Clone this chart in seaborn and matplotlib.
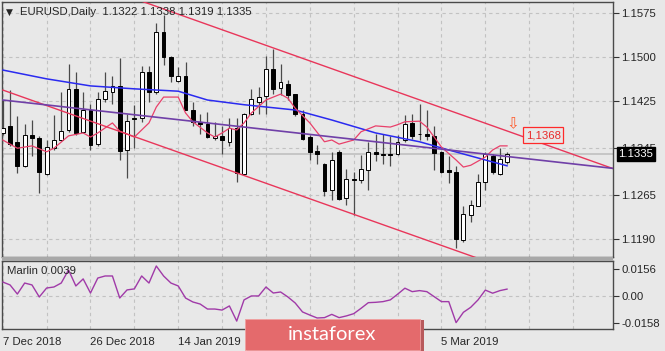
import numpy as np
import pandas as pd
import matplotlib
matplotlib.use("Agg")
import matplotlib.pyplot as plt
import seaborn as sns
from matplotlib.patches import Rectangle

# ---------------- data ----------------
opens = [1.1371,1.1383,1.1356,1.1314,1.1368,1.1363,1.1301,1.1345,1.1359,1.1376,
         1.1445,1.1373,1.1410,1.1352,1.1428,1.1441,1.1451,1.1342,1.1396,1.1396,
         1.1475,1.1441,1.1542,1.1500,1.1460,1.1468,1.1410,1.1389,1.1387,1.1362,
         1.1366,1.1356,1.1380,1.1301,1.1404,1.1424,1.1433,1.1479,1.1447,1.1455,
         1.1437,1.1403,1.1364,1.1341,1.1319,1.1274,1.1339,1.1260,1.1292,1.1291,
         1.1308,1.1339,1.1336,1.1335,1.1335,1.1359,1.1388,1.1370,1.1370,1.1366,
         1.1339,1.1308,1.1305,1.1189,1.1231,1.1246,1.1288,1.1332,1.1302,1.1322]
highs = [1.1427,1.1444,1.1400,1.1387,1.1393,1.1365,1.1359,1.1402,1.1440,1.1488,
         1.1475,1.1440,1.1421,1.1441,1.1475,1.1467,1.1498,1.1404,1.1418,1.1484,
         1.1485,1.1558,1.1572,1.1502,1.1483,1.1492,1.1424,1.1404,1.1407,1.1390,
         1.1382,1.1396,1.1396,1.1405,1.1445,1.1449,1.1502,1.1513,1.1489,1.1461,
         1.1438,1.1410,1.1368,1.1350,1.1320,1.1339,1.1342,1.1309,1.1305,1.1333,
         1.1356,1.1370,1.1370,1.1365,1.1368,1.1402,1.1404,1.1420,1.1410,1.1382,
         1.1340,1.1331,1.1314,1.1246,1.1257,1.1302,1.1339,1.1336,1.1345,1.1338]
lows = [1.1368,1.1348,1.1303,1.1313,1.1331,1.1268,1.1300,1.1342,1.1358,1.1373,
        1.1368,1.1371,1.1342,1.1348,1.1424,1.1421,1.1325,1.1295,1.1345,1.1390,
        1.1424,1.1438,1.1486,1.1458,1.1457,1.1410,1.1383,1.1370,1.1362,1.1359,
        1.1335,1.1348,1.1288,1.1299,1.1401,1.1404,1.1404,1.1438,1.1436,1.1427,
        1.1399,1.1359,1.1325,1.1319,1.1263,1.1257,1.1257,1.1248,1.1231,1.1286,
        1.1274,1.1324,1.1319,1.1314,1.1333,1.1356,1.1360,1.1359,1.1359,1.1308,
        1.1303,1.1286,1.1175,1.1186,1.1220,1.1246,1.1274,1.1301,1.1299,1.1319]
closes = [1.1380,1.1352,1.1315,1.1368,1.1362,1.1304,1.1347,1.1359,1.1374,1.1445,
          1.1371,1.1410,1.1350,1.1429,1.1443,1.1451,1.1341,1.1391,1.1394,1.1475,
          1.1440,1.1542,1.1500,1.1468,1.1467,1.1410,1.1390,1.1387,1.1364,1.1365,
          1.1359,1.1379,1.1303,1.1404,1.1428,1.1432,1.1479,1.1445,1.1457,1.1436,
          1.1403,1.1360,1.1339,1.1335,1.1273,1.1325,1.1258,1.1293,1.1291,1.1309,
          1.1339,1.1336,1.1333,1.1334,1.1356,1.1387,1.1365,1.1369,1.1365,1.1337,
          1.1305,1.1305,1.1190,1.1233,1.1248,1.1288,1.1335,1.1305,1.1326,1.1335]

marlin = [0.0080,0.0063,0.0010,0.0074,0.0063,-0.0007,0.0045,0.0051,0.0074,0.0150,
          0.0057,0.0098,0.0016,0.0103,0.0115,0.0115,-0.0013,0.0034,0.0040,0.0115,
          0.0074,0.0173,0.0115,0.0074,0.0057,-0.0013,-0.0036,-0.0048,-0.0077,-0.0077,
          -0.0083,-0.0059,-0.0147,-0.0024,-0.0001,-0.0001,0.0051,0.0016,0.0022,-0.0007,
          -0.0042,-0.0094,-0.0112,-0.0129,-0.0127,-0.0108,-0.0127,-0.0117,-0.0104,-0.0073,
          -0.0040,-0.0038,-0.0034,-0.0024,0.0009,0.0044,0.0024,0.0030,0.0024,-0.0005,
          -0.0034,-0.0034,-0.0156,-0.0096,-0.0067,-0.0024,0.0033,0.0015,0.0030,0.0039]

# slow moving average (blue), sampled at bar indices
ma_slow_idx = [0, 6, 12, 18, 21, 24, 28, 33, 40, 45, 51, 57, 61, 66, 69]
ma_slow_val = [1.1478,1.1463,1.1451,1.1446,1.1444,1.1442,1.1427,1.1419,1.1410,
               1.1393,1.1371,1.1356,1.1342,1.1325,1.1315]
# fast moving average (red), sampled at bar indices
ma_fast_idx = [0,2,4,6,7,9,11,12,13,15,16,18,20,21,22,24,25,26,28,29,30,31,32,33,
               34,36,38,39,40,42,44,45,46,48,49,51,53,54,55,57,58,59,60,62,63,64,
               66,67,68,69]
ma_fast_val = [1.1359,1.1345,1.1349,1.1339,1.1345,1.1366,1.1371,1.1364,1.1371,1.1388,
               1.1374,1.1364,1.1388,1.1415,1.1432,1.1432,1.1405,1.1390,1.1371,1.1364,
               1.1371,1.1379,1.1376,1.1388,1.1405,1.1427,1.1437,1.1430,1.1413,1.1388,
               1.1356,1.1359,1.1352,1.1359,1.1373,1.1383,1.1381,1.1385,1.1390,1.1391,
               1.1381,1.1364,1.1347,1.1325,1.1313,1.1316,1.1330,1.1342,1.1349,1.1349]

# trend lines: (bar index, price) end points
channel_upper = [(0, 1.1679), (84, 1.1308)]
channel_lower = [(0, 1.1444), (84, 1.1074)]
trend_purple = [(0, 1.1427), (84, 1.1310)]

price_ticks = [1.1575, 1.1500, 1.1425, 1.1345, 1.1265, 1.1190]
marlin_ticks = [0.0156, 0.0, -0.0158]
marlin_tick_labels = ["0.0156", "0.00", "-0.0158"]
last_price = 1.1335
target_price = 1.1367
target_text = "1,1368"
title_text = "EURUSD,Daily  1.1322 1.1338 1.1319 1.1335"
visible_date_bars = [0, 12, 24, 60]

dates = pd.bdate_range("2018-12-07", "2019-03-18")
dates = dates[~dates.isin(pd.to_datetime(["2018-12-25", "2019-01-01"]))]

# ---------------- style ----------------
sns.set_style("white")
plt.rcParams["font.family"] = ["Liberation Sans", "DejaVu Sans"]
BG = "#e8e8e8"
GRID = "#c2c2c2"
FS = 8.2

W, H = 665, 351
fig = plt.figure(figsize=(W / 100, H / 100), dpi=100)
fig.patch.set_facecolor(BG)

def fx(px):
    return px / W

def fy(py):
    return 1 - py / H

ax = fig.add_axes([fx(2), fy(257), fx(611), 255 / H])
ax2 = fig.add_axes([fx(2), fy(329), fx(611), 68 / H])
for a in (ax, ax2):
    a.set_facecolor(BG)
    for s in a.spines.values():
        s.set_color("#4a4a4a")
        s.set_linewidth(1.0)

n = len(opens)
idx = np.arange(n)
XL = (-0.1, 83.46)

# grid
for a in (ax, ax2):
    for g in range(0, 85, 6):
        a.axvline(g, color=GRID, lw=0.8, ls=(0, (3, 3)), zorder=0)
for p in price_ticks:
    ax.axhline(p, color=GRID, lw=0.8, ls=(0, (3, 3)), zorder=0)
ax2.axhline(0, color=GRID, lw=0.8, ls=(0, (3, 3)), zorder=0)

# bid line
ax.axhline(last_price, color="#c6c6c6", lw=1.4, zorder=0.5)

# candles
df = pd.DataFrame({"i": idx, "open": opens, "high": highs, "low": lows, "close": closes})
ax.vlines(df["i"], df["low"], df["high"], color="#4a4a4a", lw=0.9, zorder=2)
up = df["close"] >= df["open"]
bottoms = np.minimum(df["open"], df["close"])
heights = np.maximum(np.abs(df["close"] - df["open"]), 0.00003)
ax.bar(df["i"][up], heights[up], bottom=bottoms[up], width=0.52,
       color="white", edgecolor="black", lw=0.7, zorder=3)
ax.bar(df["i"][~up], heights[~up], bottom=bottoms[~up], width=0.52,
       color="black", edgecolor="black", lw=0.7, zorder=3)

# moving averages
sns.lineplot(x=ma_slow_idx, y=ma_slow_val, ax=ax, color="#2a2af0", lw=1.1, zorder=4)
sns.lineplot(x=ma_fast_idx, y=ma_fast_val, ax=ax, color="#e8406a", lw=0.9, zorder=4)

# trend lines
for line, col, lw in ((channel_upper, "#e8365a", 1.0), (channel_lower, "#e8365a", 1.0),
                      (trend_purple, "#7040a8", 1.2)):
    xs, ys = zip(*line)
    sns.lineplot(x=list(xs), y=list(ys), ax=ax, color=col, lw=lw, zorder=4)

ax.set_xlim(*XL)
ax.set_ylim(1.11600, 1.15937)
ax.set_xticks([])
ax.yaxis.tick_right()
ax.set_yticks(price_ticks)
ax.set_yticklabels([f"{p:.4f}" for p in price_ticks])
ax.tick_params(axis="y", length=4, width=0.8, color="#333333", pad=2, labelsize=FS)
ax.set_xlabel("")
ax.set_ylabel("")

# current price box
ax.annotate(f"{last_price:.4f}", xy=(1.0, last_price), xycoords=("axes fraction", "data"),
            xytext=(4, 0), textcoords="offset points", ha="left", va="center",
            fontsize=FS, color="white", annotation_clip=False, zorder=10,
            bbox=dict(boxstyle="square,pad=0.18", fc="black", ec="black"))

# target label and arrow
ax.text(73.9, target_price, target_text, fontsize=FS, color="#e82a2a", ha="center", va="center",
        zorder=6, bbox=dict(boxstyle="square,pad=0.25", fc=BG, ec="#ff2a2a", lw=0.9))
ax.text(69.8, 1.13862, "\u21e9", fontsize=11, color="#ff5a2a", ha="center", va="center",
        family="DejaVu Sans", zorder=6)

# title
fig.text(fx(6), fy(12), "\u25bc", fontsize=6.5, family="DejaVu Sans", va="center", ha="left")
fig.text(fx(20), fy(12), title_text, fontsize=FS, va="center", ha="left")

# indicator
sns.lineplot(x=idx, y=marlin, ax=ax2, color="#a03aa8", lw=1.0, zorder=3)
ax2.set_xlim(*XL)
ax2.set_ylim(-0.0193, 0.0202)
ax2.yaxis.tick_right()
ax2.set_yticks(marlin_ticks)
ax2.set_yticklabels(marlin_tick_labels)
ax2.set_xticks(visible_date_bars)
ax2.set_xticklabels([f"{dates[k].day} {dates[k].strftime('%b %Y')}" for k in visible_date_bars],
                    ha="left")
ax2.tick_params(axis="both", length=4, width=0.8, color="#333333", pad=2, labelsize=FS)
ax2.set_xlabel("")
ax2.set_ylabel("")
ax2.text(0.008, 0.86, f"Marlin {marlin[-1]:.4f}", transform=ax2.transAxes, fontsize=FS,
         ha="left", va="center")

# separator band between panels
fig.patches.append(Rectangle((fx(2), fy(261)), fx(611), 4 / H, transform=fig.transFigure,
                             fc="#a8a8a8", ec="none", zorder=5))

# logo
fig.patches.append(Rectangle((fx(247), fy(351)), fx(177), 31 / H, transform=fig.transFigure,
                             fc="#b85a5c", ec="none", zorder=20))
fig.patches.append(Rectangle((fx(245), fy(350)), fx(175), 31 / H, transform=fig.transFigure,
                             fc="#e46a6c", ec="#f0a0a0", lw=0.6, zorder=21))
fig.text(fx(332), fy(335), "instaforex", fontsize=14.5, color="white", ha="center", va="center",
         family="Lato", zorder=22)

fig.savefig("out.png", dpi=100, facecolor=BG)
